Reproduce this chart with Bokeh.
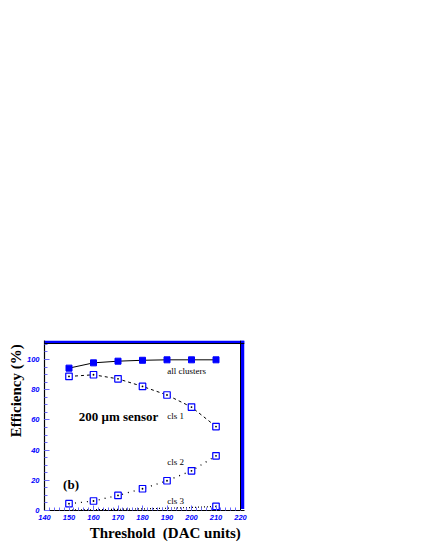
from bokeh.plotting import figure
from bokeh.models import Label, Span, BoxAnnotation, SingleIntervalTicker, Range1d, Title
from bokeh.embed import file_html
from bokeh.resources import INLINE

threshold = [150, 160, 170, 180, 190, 200, 210]
all_clusters = [94.3, 97.8, 98.9, 99.5, 99.8, 99.8, 99.8]
cls1 = [88.8, 89.9, 87.2, 82.2, 76.5, 68.5, 55.6]
cls2 = [4.5, 6.3, 10.0, 14.4, 19.7, 26.3, 36.2]
cls3 = [0.3, 0.5, 0.8, 1.1, 1.5, 2.0, 2.7]

x_ticks_interval = 10
y_ticks_interval = 20

BLUE = "#0000ff"
SERIF = "Liberation Serif"
SANS = "Liberation Sans"
NB = "\u00a0"

p = figure(width=409, height=542, output_backend="svg", toolbar_location=None,
           x_range=Range1d(140, 221.63), y_range=Range1d(0, 112.6),
           min_border_left=44, min_border_right=165, min_border_top=340,
           min_border_bottom=32)
p.outline_line_color = None
p.grid.visible = False
p.background_fill_color = "white"
p.border_fill_color = "white"

for ax, interval, nminor in ((p.xaxis[0], x_ticks_interval, 5), (p.yaxis[0], y_ticks_interval, 4)):
    ax.ticker = SingleIntervalTicker(interval=interval, num_minor_ticks=nminor)
    ax.axis_line_color = "black"
    ax.axis_line_width = 1.2
    ax.major_tick_in = 5
    ax.major_tick_out = 0
    ax.minor_tick_in = 3
    ax.minor_tick_out = 0
    ax.major_tick_line_color = "#6a6aff"
    ax.minor_tick_line_color = "#6a6aff"
    ax.major_label_text_color = BLUE
    ax.major_label_text_font = SANS
    ax.major_label_text_font_style = "bold italic"
    ax.major_label_text_font_size = "7.5px"
p.xaxis.major_label_standoff = 4
p.yaxis.major_label_standoff = 5

# axis titles
p.add_layout(Title(text="Threshold" + NB + NB + "(DAC units)" + NB, align="right",
                   text_font=SERIF, text_font_size="15px", text_font_style="bold",
                   text_color="black", standoff=0), "below")
p.add_layout(Title(text="Efficiency" + NB + "(%)" + NB, align="right",
                   text_font=SERIF, text_font_size="15px", text_font_style="bold",
                   text_color="black", standoff=0), "left")

# frame lines (top/right) and shadow band
p.add_layout(BoxAnnotation(left=140, right=221.63, bottom=110.6, top=112.6,
                           fill_color=BLUE, fill_alpha=1, line_color=None))
p.add_layout(BoxAnnotation(left=220, right=221.63, bottom=1.0, top=112.6,
                           fill_color=BLUE, fill_alpha=1, line_color=None))
p.add_layout(Span(location=110.6, dimension="width", line_color="black", line_width=1))
p.add_layout(Span(location=220, dimension="height", line_color="black", line_width=1))

# curves
p.line(threshold, all_clusters, line_color="black", line_width=1)
p.line(threshold, cls1, line_color="black", line_width=1, line_dash="3 3")
p.line(threshold, cls2, line_color="black", line_width=1.3, line_dash="1 5")
p.line(threshold, cls3, line_color="black", line_width=1.2, line_dash="1 2")

p.scatter(threshold, all_clusters, marker="square", size=6, fill_color=BLUE, line_color=BLUE)
for ser in (cls1, cls2):
    p.scatter(threshold, ser, marker="square", size=6.5, fill_color="white", line_color=BLUE, line_width=1.2)
    p.scatter(threshold, ser, marker="circle", size=1.8, fill_color="black", line_color=None)
# cls 3: markers near the axis are hidden in the original; only the visible one
vis3 = [(t, v) for t, v in zip(threshold, cls3) if v > 2.5]
p.scatter([t for t, v in vis3], [v for t, v in vis3], marker="square", size=6.5,
          fill_color="white", line_color=BLUE, line_width=1.2)
p.scatter([t for t, v in vis3], [v for t, v in vis3], marker="circle", size=1.8,
          fill_color="black", line_color=None)

def txt(x, y, s, size, style="normal", align="left", baseline="middle", angle=0, font=SERIF):
    p.add_layout(Label(x=x, y=y, text=s, text_font=font, text_font_size=size,
                       text_font_style=style, text_align=align, text_baseline=baseline,
                       angle=angle, text_color="black"))

txt(190.1, 92.1, "all clusters", "9px")
txt(190.1, 62.9, "cls 1", "9px")
txt(190.1, 32.0, "cls 2", "9px")
txt(190.1, 6.6, "cls 3", "9px")
txt(154.0, 62.3, "200 \u03bcm sensor", "13px", style="bold")
txt(147.6, 17.2, "(b)", "13px", style="bold")

open("out.html", "w").write(file_html(p, INLINE))
